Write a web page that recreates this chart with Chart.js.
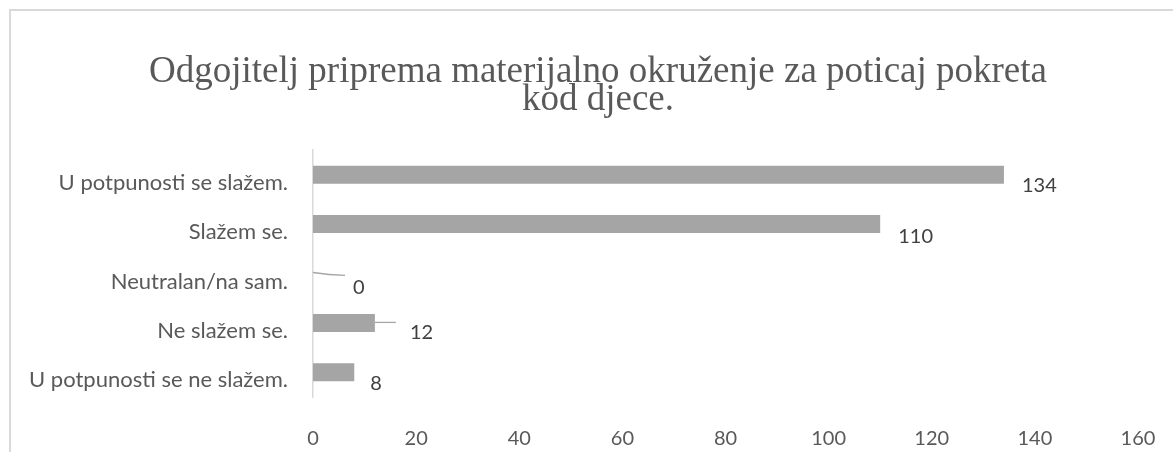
<!DOCTYPE html>
<html>
<head>
<meta charset="utf-8">
<script src="https://cdn.jsdelivr.net/npm/chart.js@4.4.1/dist/chart.umd.min.js"></script>
<style>
  html, body { margin: 0; padding: 0; background: #fff; overflow: hidden; }
  #frame { position: absolute; left: 9px; top: 9px; width: 1200px; height: 600px; border: 2px solid #d9d9d9; box-sizing: border-box; }
  #wrap { position: absolute; left: 0; top: 0; width: 1173px; height: 452px; }
</style>
</head>
<body>
<div id="frame"></div>
<div id="wrap"><canvas id="c" width="1173" height="452"></canvas></div>
<script>
// ---- data ----
const titleLines = ["Odgojitelj priprema materijalno okruženje za poticaj pokreta", "kod djece."];
const categories = ["U potpunosti se slažem.", "Slažem se.", "Neutralan/na sam.", "Ne slažem se.", "U potpunosti se ne slažem."];
const values = [134, 110, 0, 12, 8];
const xTickMin = 0;
const xTickMax = 160;
const xTickStep = 20;

// label nudges (style): [dx from bar end, dy from bar centre, leader?]
const labelNudges = [
  { dx: 18, dy: 11 },
  { dx: 18, dy: 12 },
  { dx: 40, dy: 14, leader: "curve" },
  { dx: 35, dy: 10, leader: "line" },
  { dx: 16, dy: 11.5 }
];

const textFont = "Lato, 'Open Sans', sans-serif";

const titlePlugin = {
  id: 'customTitle',
  afterDraw(chart) {
    const ctx = chart.ctx;
    ctx.save();
    ctx.fillStyle = '#595959';
    ctx.font = "37px 'Liberation Serif', 'Times New Roman', serif";
    ctx.textAlign = 'center';
    ctx.textBaseline = 'alphabetic';
    ctx.fillText(titleLines[0], 598, 82);
    ctx.fillText(titleLines[1], 598, 110);
    ctx.restore();
  }
};

const labelPlugin = {
  id: 'dataLabels',
  afterDatasetsDraw(chart) {
    const ctx = chart.ctx;
    const meta = chart.getDatasetMeta(0);
    ctx.save();
    ctx.font = "20px " + textFont;
    ctx.fillStyle = '#404040';
    ctx.textAlign = 'left';
    ctx.textBaseline = 'middle';
    meta.data.forEach((bar, i) => {
      const n = labelNudges[i];
      const xEnd = bar.x;
      const yc = bar.y;
      if (n.leader === 'curve') {
        ctx.strokeStyle = '#a6a6a6';
        ctx.lineWidth = 1.3;
        ctx.beginPath();
        ctx.moveTo(xEnd, yc - 1);
        ctx.quadraticCurveTo(xEnd + 16, yc + 1.5, xEnd + 32, yc + 1.8);
        ctx.stroke();
      } else if (n.leader === 'line') {
        ctx.strokeStyle = '#a6a6a6';
        ctx.lineWidth = 1.3;
        ctx.beginPath();
        ctx.moveTo(xEnd, yc - 0.5);
        ctx.lineTo(xEnd + 21, yc - 0.5);
        ctx.stroke();
      }
      ctx.fillText(String(values[i]), xEnd + n.dx, yc + n.dy);
    });
    ctx.restore();
  }
};

new Chart(document.getElementById('c'), {
  type: 'bar',
  data: {
    labels: categories,
    datasets: [{
      data: values,
      backgroundColor: '#a5a5a5',
      borderWidth: 0,
      categoryPercentage: 0.365,
      barPercentage: 1.0
    }]
  },
  plugins: [titlePlugin, labelPlugin],
  options: {
    indexAxis: 'y',
    responsive: false,
    animation: false,
    layout: { padding: { top: 150, left: 0, right: 35, bottom: 0 } },
    plugins: { legend: { display: false }, title: { display: false }, tooltip: { enabled: false } },
    scales: {
      x: {
        min: xTickMin, max: xTickMax,
        afterFit(scale) { scale.height = 55; scale.paddingRight = 0; scale.paddingLeft = 0; },
        ticks: { stepSize: xTickStep, color: '#595959', font: { family: textFont, size: 20 }, padding: 30 },
        grid: { display: false, drawTicks: false, tickLength: 0 },
        border: { display: false }
      },
      y: {
        afterFit(scale) { scale.width = 313; },
        ticks: { color: '#595959', font: { family: textFont, size: 22 }, padding: 25, labelOffset: 8 },
        grid: { display: false, drawTicks: false, tickLength: 0 },
        border: { display: true, color: '#d9d9d9', width: 1.5 }
      }
    }
  }
});
</script>
</body>
</html>
